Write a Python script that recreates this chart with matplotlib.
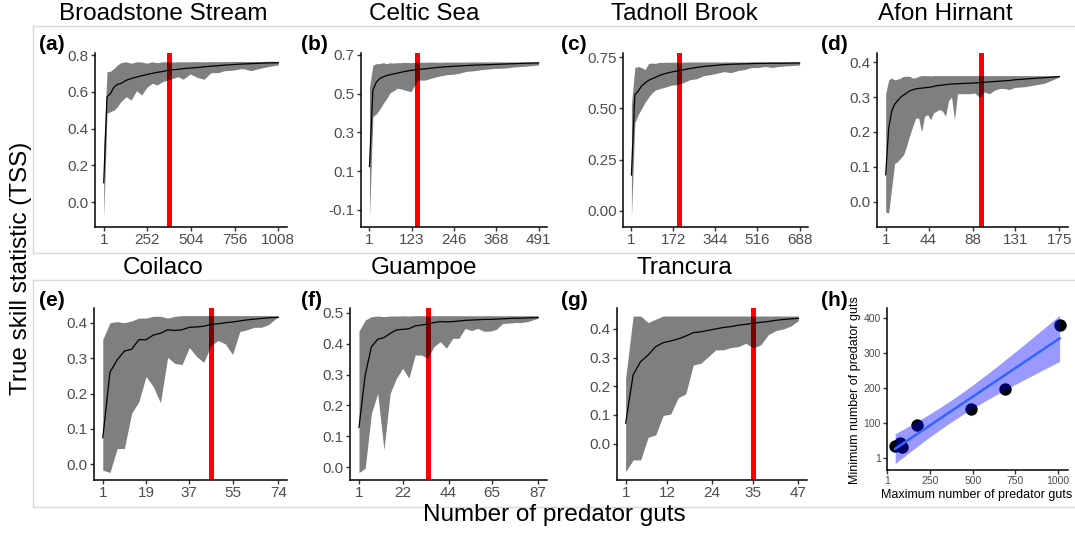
import numpy as np
import matplotlib
matplotlib.use("Agg")
import matplotlib.pyplot as plt
from matplotlib.lines import Line2D

plt.rcParams['font.family'] = ['Liberation Sans', 'DejaVu Sans']

# ---------------- data ----------------
site_names = ["Broadstone Stream", "Celtic Sea", "Tadnoll Brook", "Afon Hirnant",
              "Coilaco", "Guampoe", "Trancura"]
panel_tags = ["(a)", "(b)", "(c)", "(d)", "(e)", "(f)", "(g)", "(h)"]

# maximum number of guts per site and minimum guts needed (red lines)
max_guts = [1008, 491, 688, 175, 74, 87, 47]
min_guts = [380, 140, 197, 97, 46, 34, 35]

# (a) Broadstone Stream
a_x = [1, 20, 40, 60, 80, 100, 130, 160, 190, 220, 250, 280, 310, 340, 370, 400, 430,
       460, 500, 540, 580, 620, 660, 700, 750, 800, 850, 900, 950, 1008]
a_mean = [0.105, 0.573, 0.59, 0.625, 0.64, 0.645, 0.662, 0.672, 0.68, 0.687, 0.694, 0.70,
          0.706, 0.71, 0.716, 0.72, 0.722, 0.726, 0.729, 0.732, 0.736, 0.739, 0.742,
          0.745, 0.748, 0.751, 0.753, 0.755, 0.757, 0.758]
a_hi = [0.30, 0.709, 0.712, 0.727, 0.746, 0.758, 0.763, 0.755, 0.763, 0.762, 0.755, 0.763,
        0.758, 0.763, 0.763, 0.762, 0.763, 0.763, 0.763, 0.764, 0.763, 0.764, 0.764,
        0.764, 0.765, 0.765, 0.765, 0.765, 0.766, 0.766]
a_lo = [-0.093, 0.483, 0.492, 0.50, 0.519, 0.546, 0.573, 0.555, 0.606, 0.582, 0.624, 0.646,
        0.637, 0.655, 0.664, 0.673, 0.682, 0.668, 0.697, 0.678, 0.668, 0.704, 0.704,
        0.715, 0.718, 0.727, 0.715, 0.727, 0.737, 0.746]

# (b) Celtic Sea
b_x = [1, 11, 21, 31, 41, 51, 61, 71, 81, 91, 101, 121, 141, 161, 181, 201, 221, 241,
       261, 281, 301, 331, 361, 391, 421, 451, 491]
b_mean = [0.124, 0.519, 0.56, 0.578, 0.587, 0.594, 0.598, 0.602, 0.606, 0.61, 0.614, 0.62,
          0.625, 0.628, 0.632, 0.636, 0.639, 0.641, 0.643, 0.645, 0.647, 0.649, 0.651,
          0.653, 0.655, 0.657, 0.659]
b_hi = [0.53, 0.648, 0.655, 0.655, 0.66, 0.655, 0.66, 0.658, 0.66, 0.66, 0.662, 0.66,
        0.662, 0.662, 0.663, 0.662, 0.663, 0.663, 0.663, 0.663, 0.664, 0.664, 0.664,
        0.664, 0.664, 0.664, 0.664]
b_lo = [-0.147, 0.382, 0.395, 0.42, 0.45, 0.475, 0.505, 0.515, 0.528, 0.525, 0.52, 0.51,
        0.57, 0.57, 0.58, 0.59, 0.597, 0.60, 0.605, 0.615, 0.618, 0.625, 0.63, 0.632,
        0.638, 0.642, 0.648]

# (c) Tadnoll Brook
c_x = [1, 15, 29, 43, 57, 71, 85, 99, 113, 127, 141, 155, 169, 183, 211, 239, 267, 295,
       323, 351, 379, 407, 435, 463, 491, 519, 547, 575, 603, 631, 659, 688]
c_mean = [0.174, 0.566, 0.585, 0.61, 0.625, 0.637, 0.645, 0.652, 0.66, 0.666, 0.671, 0.675,
          0.679, 0.682, 0.688, 0.695, 0.70, 0.705, 0.708, 0.711, 0.714, 0.716, 0.717,
          0.718, 0.719, 0.72, 0.72, 0.721, 0.721, 0.721, 0.722, 0.722]
c_hi = [0.52, 0.70, 0.705, 0.70, 0.69, 0.72, 0.722, 0.72, 0.725, 0.725, 0.726, 0.725,
        0.726, 0.726, 0.726, 0.727, 0.727, 0.727, 0.727, 0.727, 0.727, 0.727, 0.727,
        0.727, 0.728, 0.728, 0.728, 0.728, 0.728, 0.728, 0.728, 0.728]
c_lo = [-0.04, 0.43, 0.47, 0.50, 0.53, 0.555, 0.575, 0.59, 0.595, 0.60, 0.605, 0.61, 0.615,
        0.615, 0.625, 0.64, 0.645, 0.66, 0.665, 0.672, 0.68, 0.675, 0.685, 0.69, 0.70,
        0.70, 0.705, 0.70, 0.705, 0.708, 0.71, 0.712]

# (d) Afon Hirnant
d_x = [1, 4, 7, 10, 13, 16, 19, 22, 25, 28, 31, 34, 37, 40, 43, 46, 49, 52, 55, 58, 61,
       64, 67, 70, 73, 76, 80, 85, 90, 95, 100, 105, 110, 115, 120, 125, 130, 140, 150,
       160, 175]
d_mean = [0.077, 0.21, 0.26, 0.28, 0.29, 0.30, 0.306, 0.312, 0.318, 0.321, 0.324, 0.325,
          0.326, 0.327, 0.328, 0.329, 0.331, 0.333, 0.334, 0.335, 0.336, 0.337, 0.338,
          0.338, 0.339, 0.339, 0.34, 0.34, 0.341, 0.342, 0.343, 0.344, 0.345, 0.346,
          0.347, 0.348, 0.35, 0.352, 0.354, 0.356, 0.359]
d_hi = [0.31, 0.35, 0.355, 0.35, 0.352, 0.355, 0.36, 0.36, 0.36, 0.355, 0.356, 0.36, 0.362,
        0.362, 0.362, 0.361, 0.362, 0.362, 0.362, 0.362, 0.362, 0.362, 0.362, 0.362,
        0.362, 0.362, 0.362, 0.362, 0.362, 0.362, 0.362, 0.362, 0.362, 0.362, 0.362,
        0.362, 0.362, 0.362, 0.362, 0.362, 0.362]
d_lo = [-0.03, -0.033, 0.04, 0.11, 0.115, 0.125, 0.135, 0.16, 0.19, 0.215, 0.24, 0.24,
        0.20, 0.245, 0.25, 0.235, 0.255, 0.26, 0.265, 0.26, 0.245, 0.29, 0.30, 0.235,
        0.31, 0.31, 0.31, 0.31, 0.312, 0.30, 0.315, 0.31, 0.32, 0.325, 0.325, 0.322,
        0.328, 0.33, 0.335, 0.34, 0.358]

# (e) Coilaco
e_x = [1, 4, 7, 10, 13, 16, 19, 22, 25, 28, 31, 34, 37, 40, 43, 46, 49, 52, 55, 58, 61,
       64, 67, 70, 74]
e_mean = [0.075, 0.26, 0.295, 0.32, 0.325, 0.352, 0.352, 0.365, 0.37, 0.38, 0.378, 0.38,
          0.387, 0.388, 0.39, 0.395, 0.397, 0.40, 0.402, 0.405, 0.408, 0.41, 0.412,
          0.414, 0.415]
e_hi = [0.353, 0.40, 0.403, 0.40, 0.405, 0.413, 0.413, 0.418, 0.418, 0.413, 0.418, 0.42,
        0.42, 0.42, 0.42, 0.42, 0.42, 0.42, 0.42, 0.42, 0.42, 0.42, 0.42, 0.42, 0.42]
e_lo = [-0.016, -0.023, 0.045, 0.045, 0.144, 0.177, 0.248, 0.22, 0.174, 0.302, 0.285,
        0.282, 0.33, 0.305, 0.288, 0.335, 0.35, 0.34, 0.31, 0.375, 0.38, 0.387, 0.387,
        0.395, 0.417]

# (f) Guampoe
f_x = [1, 4, 7, 10, 13, 16, 19, 22, 25, 28, 31, 34, 37, 40, 43, 46, 49, 52, 55, 58, 61,
       64, 67, 70, 73, 76, 79, 82, 87]
f_mean = [0.129, 0.298, 0.39, 0.414, 0.419, 0.433, 0.444, 0.446, 0.448, 0.457, 0.46,
          0.463, 0.468, 0.471, 0.47, 0.471, 0.473, 0.475, 0.476, 0.477, 0.478, 0.478,
          0.479, 0.48, 0.481, 0.482, 0.482, 0.483, 0.484]
f_hi = [0.44, 0.476, 0.487, 0.489, 0.487, 0.489, 0.489, 0.49, 0.489, 0.49, 0.49, 0.49,
        0.49, 0.49, 0.49, 0.49, 0.49, 0.49, 0.49, 0.49, 0.49, 0.49, 0.49, 0.49, 0.49,
        0.49, 0.49, 0.49, 0.49]
f_lo = [-0.017, -0.003, 0.175, 0.239, 0.056, 0.239, 0.288, 0.32, 0.288, 0.363, 0.363,
        0.352, 0.39, 0.406, 0.385, 0.417, 0.417, 0.449, 0.442, 0.449, 0.44, 0.44, 0.446,
        0.465, 0.466, 0.468, 0.468, 0.471, 0.482]

# (g) Trancura
g_x = [1, 3, 5, 7, 9, 11, 13, 15, 17, 19, 21, 23, 25, 27, 29, 31, 33, 35, 37, 39, 41, 43,
       45, 47]
g_mean = [0.071, 0.24, 0.286, 0.309, 0.338, 0.352, 0.358, 0.365, 0.375, 0.387, 0.39,
          0.395, 0.40, 0.405, 0.408, 0.413, 0.416, 0.42, 0.423, 0.426, 0.43, 0.433,
          0.435, 0.437]
g_hi = [0.228, 0.445, 0.445, 0.422, 0.434, 0.445, 0.445, 0.445, 0.445, 0.445, 0.445,
        0.445, 0.445, 0.445, 0.445, 0.445, 0.445, 0.445, 0.445, 0.445, 0.445, 0.445,
        0.445, 0.445]
g_lo = [-0.098, -0.057, -0.057, 0.022, 0.03, 0.098, 0.103, 0.16, 0.173, 0.274, 0.28,
        0.303, 0.327, 0.327, 0.335, 0.338, 0.35, 0.333, 0.345, 0.38, 0.394, 0.40, 0.41,
        0.429]

# tick labels
x_ticks = [[1, 252, 504, 756, 1008], [1, 123, 246, 368, 491], [1, 172, 344, 516, 688],
           [1, 44, 88, 131, 175], [1, 19, 37, 55, 74], [1, 22, 44, 65, 87],
           [1, 12, 24, 35, 47]]
y_ticks = [[0.0, 0.2, 0.4, 0.6, 0.8], [-0.1, 0.1, 0.3, 0.5, 0.7], [0.0, 0.25, 0.5, 0.75],
           [0.0, 0.1, 0.2, 0.3, 0.4], [0.0, 0.1, 0.2, 0.3, 0.4],
           [0.0, 0.1, 0.2, 0.3, 0.4, 0.5], [0.0, 0.1, 0.2, 0.3, 0.4]]
y_fmt = ["{:.1f}", "{:.1f}", "{:.2f}", "{:.1f}", "{:.1f}", "{:.1f}", "{:.1f}"]
h_xticks = [1, 250, 500, 750, 1000]
h_yticks = [1, 100, 200, 300, 400]

series = [(a_x, a_mean, a_lo, a_hi), (b_x, b_mean, b_lo, b_hi), (c_x, c_mean, c_lo, c_hi),
          (d_x, d_mean, d_lo, d_hi), (e_x, e_mean, e_lo, e_hi), (f_x, f_mean, f_lo, f_hi),
          (g_x, g_mean, g_lo, g_hi)]

# ---------------- layout (pixels) ----------------
W, H = 1075, 533
fig = plt.figure(figsize=(W / 100, H / 100), dpi=100)

def px_axes(l, t, r, b):
    return fig.add_axes([l / W, 1 - b / H, (r - l) / W, (b - t) / H])

def fx(x):
    return x / W

def fy(y):
    return 1 - y / H

boxes = [(95, 53, 287, 227), (361, 53, 547, 227), (623, 53, 808, 227), (877, 53, 1068, 227),
         (94, 308, 287, 480), (350, 308, 547, 480), (617, 308, 807, 480),
         (887, 308, 1068, 470)]
ylims = [(-0.136, 0.811), (-0.188, 0.71), (-0.08, 0.771), (-0.073, 0.427),
         (-0.044, 0.4415), (-0.041, 0.515), (-0.127, 0.473)]
col_centers = [163, 424, 684, 945]
title_y = [14, 268]
tag_pos = [(39, 45), (301, 45), (561, 45), (821, 45), (39, 301), (301, 301), (561, 301),
           (821, 301)]

frame_col = '#D9D9D9'
for y0, y1 in [(26, 253), (280, 507)]:
    fig.add_artist(Line2D([fx(33), 1.0], [fy(y0), fy(y0)], color=frame_col, lw=1,
                          transform=fig.transFigure))
    fig.add_artist(Line2D([fx(33), 1.0], [fy(y1), fy(y1)], color=frame_col, lw=1,
                          transform=fig.transFigure))
    fig.add_artist(Line2D([fx(33), fx(33)], [fy(y0), fy(y1)], color=frame_col, lw=1,
                          transform=fig.transFigure))

def style_axes(ax, labelsize=11):
    for s in ['top', 'right']:
        ax.spines[s].set_visible(False)
    for s in ['left', 'bottom']:
        ax.spines[s].set_linewidth(1.1)
        ax.spines[s].set_color('black')
    ax.tick_params(direction='out', length=3, width=1, color='#333333',
                   labelcolor='#4D4D4D', labelsize=labelsize, pad=1.5)

for i, (xs, mean, lo, hi) in enumerate(series):
    ax = px_axes(*boxes[i])
    style_axes(ax)
    ax.axvline(min_guts[i], color='red', lw=3.6, zorder=1)
    ax.fill_between(xs, lo, hi, color='black', alpha=0.5, lw=0, zorder=2)
    ax.plot(xs, mean, color='black', lw=0.9, zorder=3)
    span = max_guts[i] - 1
    ax.set_xlim(1 - 0.05 * span, max_guts[i] + 0.05 * span)
    ax.set_ylim(*ylims[i])
    ax.set_xticks(x_ticks[i])
    ax.set_xticklabels([str(v) for v in x_ticks[i]])
    ax.set_yticks(y_ticks[i])
    ax.set_yticklabels([y_fmt[i].format(v) for v in y_ticks[i]])
    row = 0 if i < 4 else 1
    fig.text(fx(col_centers[i % 4]), fy(title_y[row]), site_names[i], ha='center',
             va='center', fontsize=17.5)

for i, (px, py) in enumerate(tag_pos):
    fig.text(fx(px), fy(py), panel_tags[i], ha='left', va='center', fontsize=15,
             fontweight='bold')

# (h) regression of minimum on maximum guts
axh = px_axes(*boxes[7])
style_axes(axh, labelsize=7.5)
mx = np.array(max_guts, dtype=float)
my = np.array(min_guts, dtype=float)
n = len(mx)
slope, intercept = np.polyfit(mx, my, 1)
resid = my - (intercept + slope * mx)
s_err = np.sqrt(np.sum(resid ** 2) / (n - 2))
xg = np.linspace(mx.min(), mx.max(), 80)
yg = intercept + slope * xg
se = s_err * np.sqrt(1 / n + (xg - mx.mean()) ** 2 / np.sum((mx - mx.mean()) ** 2))
t_crit = 2.5706  # t(0.975, df=5)
axh.scatter(mx, my, s=80, color='black', zorder=2, linewidths=0)
axh.fill_between(xg, yg - t_crit * se, yg + t_crit * se, color='blue', alpha=0.4, lw=0,
                 zorder=3)
axh.plot(xg, yg, color='#3366FF', lw=1.8, zorder=4)
axh.set_xlim(-1, 1057)
axh.set_ylim(-32, 427.5)
axh.set_xticks(h_xticks)
axh.set_xticklabels([str(v) for v in h_xticks])
axh.set_yticks(h_yticks)
axh.set_yticklabels([str(v) for v in h_yticks])
fig.text(fx(977), fy(495), "Maximum number of predator guts", ha='center', va='center',
         fontsize=9)
fig.text(fx(855), fy(390), "Minimum number of predator guts", ha='center', va='center',
         rotation=90, fontsize=9)

# shared axis titles
fig.text(fx(21), fy(268), "True skill statistic (TSS)", rotation=90, ha='center',
         va='center', fontsize=17.5)
fig.text(fx(554), fy(515), "Number of predator guts", ha='center', va='center',
         fontsize=17.5)

fig.savefig("out.png", dpi=100)
